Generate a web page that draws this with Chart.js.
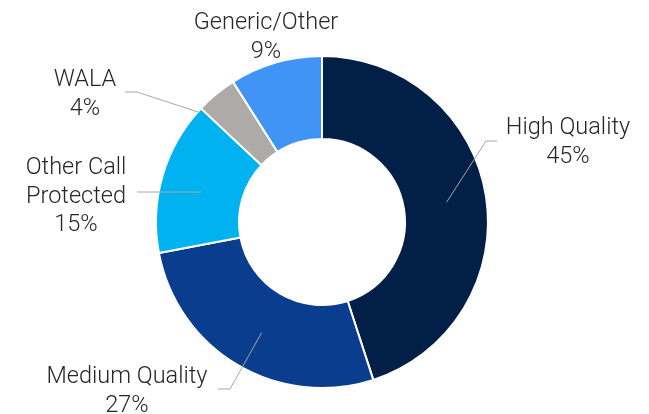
<!DOCTYPE html>
<html>
<head>
<meta charset="utf-8">
<script src="https://cdn.jsdelivr.net/npm/chart.js@4.4.1/dist/chart.umd.min.js"></script>
<style>
  html, body { margin: 0; padding: 0; background: #fff; }
  #wrap { width: 649px; height: 414px; position: relative; }
</style>
</head>
<body>
<div id="wrap"><canvas id="chart"></canvas></div>
<script>
const categories = ['High Quality', 'Medium Quality', ['Other Call', 'Protected'], 'WALA', 'Generic/Other'];
const shares = [45, 27, 15, 4, 9];
const sliceColors = ['#021f47', '#0b3d8f', '#00b3f0', '#adaaa8', '#4094f6'];

// label placement relative to the doughnut centre (px), leader start as fraction of outer radius
const labelLayout = [
    {x: 246, y: -88, line: {f: 0.76, da: 0, elbow: [164, -81], end: [175, -81]}},
    {x: -195, y: 161, line: {f: 0.76, da: -2, elbow: [-92, 167], end: [-104, 167]}},
    {x: -246, y: -48, line: {f: 0.75, da: -2.3, elbow: [-172, -30], end: [-185, -30]}},
    {x: -237, y: -136, line: {f: 0.99, da: -8.6, elbow: [-185, -130], end: [-197, -130]}},
    {x: -56, y: -193, line: null}
];

const outsideLabels = {
    id: 'outsideLabels',
    afterDatasetsDraw(chart) {
        const ctx = chart.ctx;
        const arcs = chart.getDatasetMeta(0).data;
        ctx.save();
        arcs.forEach((arc, i) => {
            const p = arc.getProps(['x', 'y', 'startAngle', 'endAngle', 'outerRadius'], true);
            const lay = labelLayout[i];
            if (lay.line) {
                const mid = (p.startAngle + p.endAngle) / 2 + lay.line.da * Math.PI / 180;
                const r = p.outerRadius * lay.line.f;
                ctx.beginPath();
                ctx.moveTo(p.x + Math.cos(mid) * r, p.y + Math.sin(mid) * r);
                ctx.lineTo(p.x + lay.line.elbow[0], p.y + lay.line.elbow[1]);
                ctx.lineTo(p.x + lay.line.end[0], p.y + lay.line.end[1]);
                ctx.strokeStyle = '#a6a6a6';
                ctx.lineWidth = 1;
                ctx.stroke();
            }
            const name = chart.data.labels[i];
            const lines = (Array.isArray(name) ? name : [name]).concat(shares[i] + '%');
            ctx.fillStyle = '#262626';
            ctx.font = '300 23.5px Roboto';
            ctx.textAlign = 'center';
            ctx.textBaseline = 'alphabetic';
            lines.forEach((t, k) => ctx.fillText(t, p.x + lay.x, p.y + lay.y + k * 28.7));
        });
        ctx.restore();
    }
};

new Chart(document.getElementById('chart'), {
    type: 'doughnut',
    data: {
        labels: categories,
        datasets: [{
            data: shares,
            backgroundColor: sliceColors,
            borderColor: '#ffffff',
            borderWidth: 2
        }]
    },
    options: {
        responsive: true,
        maintainAspectRatio: false,
        animation: false,
        cutout: '50%',
        layout: {padding: {top: 55, bottom: 25, left: 0, right: 5}},
        plugins: {
            legend: {display: false},
            tooltip: {enabled: false}
        }
    },
    plugins: [outsideLabels]
});
</script>
</body>
</html>
